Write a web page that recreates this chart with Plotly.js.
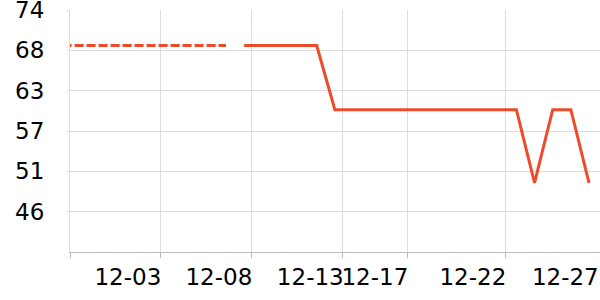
<!DOCTYPE html>
<html>
<head>
<meta charset="utf-8">
<script src="https://cdn.plot.ly/plotly-3.0.1.min.js"></script>
<style>html,body{margin:0;padding:0;background:#fff;}#chart{width:600px;height:300px;}</style>
</head>
<body>
<div id="chart"></div>
<script>
// Dashed (earlier) segment
const dashedDates = ['2023-11-29','2023-11-30','2023-12-01','2023-12-02','2023-12-03','2023-12-04','2023-12-05','2023-12-06','2023-12-07','2023-12-08'];
const dashedValues = [69,69,69,69,69,69,69,69,69,69];
// Solid segment
const solidDates = ['2023-12-09','2023-12-10','2023-12-11','2023-12-12','2023-12-13','2023-12-14','2023-12-15','2023-12-16','2023-12-17','2023-12-18','2023-12-19','2023-12-20','2023-12-21','2023-12-22','2023-12-23','2023-12-24','2023-12-25','2023-12-26','2023-12-27','2023-12-28'];
const solidValues = [69,69,69,69,69,60,60,60,60,60,60,60,60,60,60,60,49.7,60,60,49.7];
// Axis ticks
const xTickVals = ['2023-11-29 09:48','2023-12-04 09:13','2023-12-09 09:32','2023-12-14 10:22','2023-12-17 23:47','2023-12-23 09:20','2023-12-28 14:32'];
const xTickText = ['','12-03','12-08','12-13','12-17','12-22','12-27\u200a'];
const xRange = ['2023-11-29 09:48','2023-12-28 14:32'];
const yTickVals = [45.667,51.333,57,62.667,68.333,74];
const yTickText = ['46','51','57','63','68','74'];
const yRange = [40,74];

const color = '#ee4b2b';
const data = [
  {x: dashedDates, y: dashedValues, type:'scatter', mode:'lines', line:{color:color, width:3, dash:'9px,3px'}, hoverinfo:'skip'},
  {x: solidDates, y: solidValues, type:'scatter', mode:'lines', line:{color:color, width:3}, hoverinfo:'skip'}
];
const layout = {
  width:600, height:300,
  margin:{l:70, r:0, t:10, b:48},
  paper_bgcolor:'#fff', plot_bgcolor:'#fff',
  showlegend:false,
  font:{family:'DejaVu Sans', size:23, color:'#000'},
  xaxis:{type:'date', range:xRange, tickmode:'array', tickvals:xTickVals, ticktext:xTickText,
    showgrid:true, gridcolor:'#dddddd', gridwidth:1, showline:true, linecolor:'#bbbbbb', linewidth:1,
    ticks:'outside', ticklen:5, tickcolor:'#bbbbbb', ticklabelposition:'outside left', ticklabelstandoff:4,
    ticklabelshift:2, tickangle:0, ticklabeloverflow:'allow', zeroline:false, fixedrange:true},
  yaxis:{range:yRange, tickmode:'array', tickvals:yTickVals, ticktext:yTickText,
    showgrid:true, gridcolor:'#dddddd', gridwidth:1, showline:true, linecolor:'#dddddd', linewidth:1,
    ticks:'outside', ticklen:2, tickcolor:'#dddddd', ticklabelstandoff:18, ticklabeloverflow:'allow',
    zeroline:false, fixedrange:true}
};
Plotly.newPlot('chart', data, layout, {staticPlot:true, displayModeBar:false});
</script>
</body>
</html>
